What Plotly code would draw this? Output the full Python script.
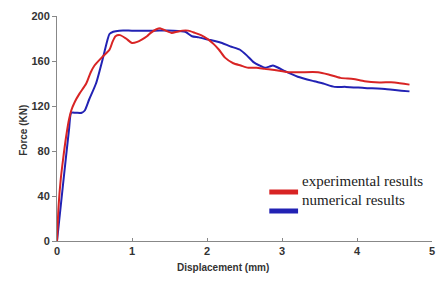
import plotly.graph_objects as go

exp_x = [0, 0.02, 0.05, 0.08, 0.12, 0.16, 0.19, 0.24, 0.30, 0.39, 0.45, 0.50, 0.61, 0.70, 0.74, 0.78, 0.84, 0.92, 1.00, 1.07, 1.13, 1.20, 1.25, 1.32, 1.38, 1.45, 1.53, 1.60, 1.67, 1.75, 1.84, 1.92, 2.02, 2.09, 2.16, 2.24, 2.35, 2.45, 2.55, 2.66, 2.77, 2.90, 3.08, 3.25, 3.48, 3.62, 3.78, 3.95, 4.10, 4.30, 4.50, 4.70]
exp_y = [0, 30, 55, 72, 92, 108, 116, 124, 131, 140, 150, 156, 164, 170, 177, 182, 183, 180, 176, 177, 179, 182, 185, 188, 189, 187, 185, 186, 187, 187, 185, 183, 179, 175, 170, 163, 158, 156, 154, 154, 153, 152, 150, 150, 150, 148, 145, 144, 142, 141, 141, 139]

num_x = [0, 0.08, 0.16, 0.19, 0.25, 0.33, 0.37, 0.43, 0.52, 0.61, 0.67, 0.70, 0.75, 0.83, 1.00, 1.30, 1.55, 1.71, 1.80, 1.89, 2.02, 2.09, 2.20, 2.31, 2.44, 2.53, 2.62, 2.70, 2.77, 2.83, 2.88, 2.95, 3.04, 3.21, 3.43, 3.55, 3.70, 3.85, 4.10, 4.40, 4.70]
num_y = [0, 50, 99, 114, 114, 114, 116, 126, 140, 162, 178, 184, 186, 187, 187, 187, 187, 186, 182, 181, 179, 178, 176, 173, 170, 165, 159, 156, 154, 155, 156, 154, 151, 146, 142, 140, 137, 137, 136, 135, 133]

x_ticks = [0, 1, 2, 3, 4, 5]
y_ticks = [0, 40, 80, 120, 160, 200]

L, R, T, B = 57, 435, 16, 241
W, H = 437, 282
def px(x):
    return (x - L) / (R - L)
def py(y):
    return (B - y) / (B - T)

fig = go.Figure()
fig.add_trace(go.Scatter(x=num_x, y=num_y, mode="lines", name="numerical results",
                         line=dict(color="#2222b4", width=2, shape="spline", smoothing=0.6)))
fig.add_trace(go.Scatter(x=exp_x, y=exp_y, mode="lines", name="experimental results",
                         line=dict(color="#d82424", width=2, shape="spline", smoothing=0.6)))

tick_font = dict(family="Liberation Sans", size=11, color="#333333")
fig.update_layout(
    width=W, height=H,
    margin=dict(l=L, r=W - R, t=T, b=H - B),
    paper_bgcolor="white", plot_bgcolor="white",
    showlegend=False,
    xaxis=dict(range=[0, 5], tickvals=x_ticks, ticktext=[f"<b>{v}</b>" for v in x_ticks],
               showgrid=False, zeroline=False, showline=True, linecolor="#888888", linewidth=1,
               ticks="inside", ticklen=3, tickcolor="#888888", tickfont=tick_font,
               ticklabeloverflow="allow"),
    yaxis=dict(range=[0, 200], tickvals=y_ticks, ticktext=[f"<b>{v}</b>" for v in y_ticks],
               showgrid=False, zeroline=False, showline=True, linecolor="#888888", linewidth=1,
               ticks="outside", ticklen=4, tickcolor="#888888", tickfont=tick_font),
)

# axis titles
fig.add_annotation(text="<b>Displacement (mm)</b>", x=px(224), y=py(275), xref="paper", yref="paper",
                   showarrow=False, font=dict(family="Liberation Sans", size=10, color="#333333"))
fig.add_annotation(text="<b>Force (KN)</b>", x=px(15), y=py(130), xref="paper", yref="paper",
                   textangle=-90, showarrow=False,
                   font=dict(family="Liberation Sans", size=10, color="#333333"))

# legend drawn manually
legend_items = [("experimental results", "#d82424", 192), ("numerical results", "#2222b4", 211)]
for label, color, yy in legend_items:
    fig.add_shape(type="line", xref="paper", yref="paper", x0=px(271), x1=px(300), y0=py(yy), y1=py(yy),
                  line=dict(color=color, width=5))
    fig.add_annotation(text=label, xref="paper", yref="paper", x=px(302), y=py(yy - 1), xanchor="left",
                       showarrow=False, font=dict(family="Liberation Serif", size=15, color="#222222"))

fig.write_html("out.html", config={"displayModeBar": False},
               post_script="document.body.style.margin='0';")
